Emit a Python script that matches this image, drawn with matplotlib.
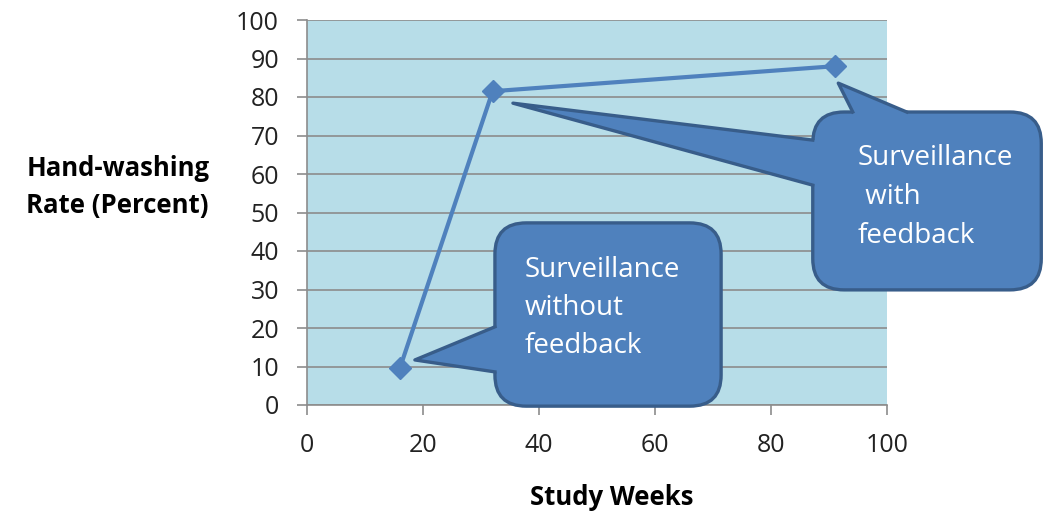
import matplotlib
matplotlib.use("Agg")
import matplotlib.pyplot as plt
from matplotlib.patches import FancyBboxPatch, Polygon

# data
weeks = [16, 32, 91]
rate = [9.5, 81.5, 88]
x_ticks = [0, 20, 40, 60, 80, 100]
y_ticks = [0, 10, 20, 30, 40, 50, 60, 70, 80, 90, 100]

label_without = ["Surveillance", "without", "feedback"]
label_with = ["Surveillance", " with", "feedback"]

BLUE = "#4F81BD"
DARK_BLUE = "#385D8A"
GRID = "#8C8C8C"

plt.rcParams["font.family"] = ["Open Sans", "DejaVu Sans"]


def callout(ax, x0, x1, y0, y1, tails, lines, tx, ty, dy):
    # rounded box, in data units, with radius matched in pixels on both axes
    r = 5.4
    box = FancyBboxPatch((x0, y0), x1 - x0, y1 - y0,
                         boxstyle=f"round,pad=0,rounding_size={r}",
                         mutation_aspect=1.5, fc=BLUE, ec=DARK_BLUE, lw=2.4,
                         clip_on=False, zorder=4)
    ax.add_patch(box)
    for tip, a, b, inward in tails:
        a_in = (a[0] + inward[0], a[1] + inward[1])
        b_in = (b[0] + inward[0], b[1] + inward[1])
        ax.add_patch(Polygon([tip, a, a_in, b_in, b], closed=True, fc=BLUE,
                             ec="none", clip_on=False, zorder=5))
        ax.plot([a[0], tip[0], b[0]], [a[1], tip[1], b[1]], color=DARK_BLUE,
                lw=2.4, solid_joinstyle="round", clip_on=False, zorder=6)
    for i, s in enumerate(lines):
        ax.text(tx, ty - i * dy, s, color="white", fontsize=20,
                va="baseline", ha="left", zorder=7, clip_on=False)


def main():
    fig = plt.figure(figsize=(10.46, 5.13), dpi=100)
    ax = fig.add_axes([307 / 1046, 108 / 513, 580 / 1046, 385 / 513])
    ax.set_facecolor("#B7DDE8")
    ax.set_xlim(0, 100)
    ax.set_ylim(0, 100)
    ax.set_xticks(x_ticks)
    ax.set_yticks(y_ticks)
    ax.yaxis.grid(True, color=GRID, lw=1.2)
    ax.set_axisbelow(True)
    for side in ["top", "right"]:
        ax.spines[side].set_visible(False)
    for side in ["left", "bottom"]:
        ax.spines[side].set_color(GRID)
        ax.spines[side].set_linewidth(1.2)
    ax.tick_params(length=7.2, width=1.2, color=GRID, labelsize=18, pad=13,
                   labelcolor="#222222")

    ax.plot(weeks, rate, color=BLUE, lw=3, marker="D", ms=11, zorder=3,
            clip_on=False)

    ax.set_ylabel("Hand-washing\nRate (Percent)", rotation=0, fontsize=18.5,
                  fontweight="bold", ha="left", va="center",
                  multialignment="left", linespacing=1.45)
    ax.yaxis.set_label_coords(-0.484, 0.566)
    ax.set_xlabel("Study Weeks", fontsize=18.5, fontweight="bold",
                  va="baseline")
    ax.xaxis.set_label_coords(0.526, -0.26)

    # callout without feedback
    callout(ax, 32.4, 71.4, -0.3, 47.3,
            [((18.6, 11.7), (32.4, 20.3), (32.4, 8.6), (1.5, 0))],
            label_without, 37.6, 33.2, 9.9)
    # callout with feedback
    callout(ax, 87.2, 126.6, 29.9, 76.1,
            [((35.5, 78.4), (87.2, 68.8), (87.2, 57.1), (1.5, 0)),
             ((91.6, 83.6), (94.1, 76.1), (103.4, 76.1), (0, -2))],
            label_with, 95.0, 62.3, 10.1)

    fig.savefig("out.png", dpi=100)
    plt.close(fig)


if __name__ == "__main__":
    main()
